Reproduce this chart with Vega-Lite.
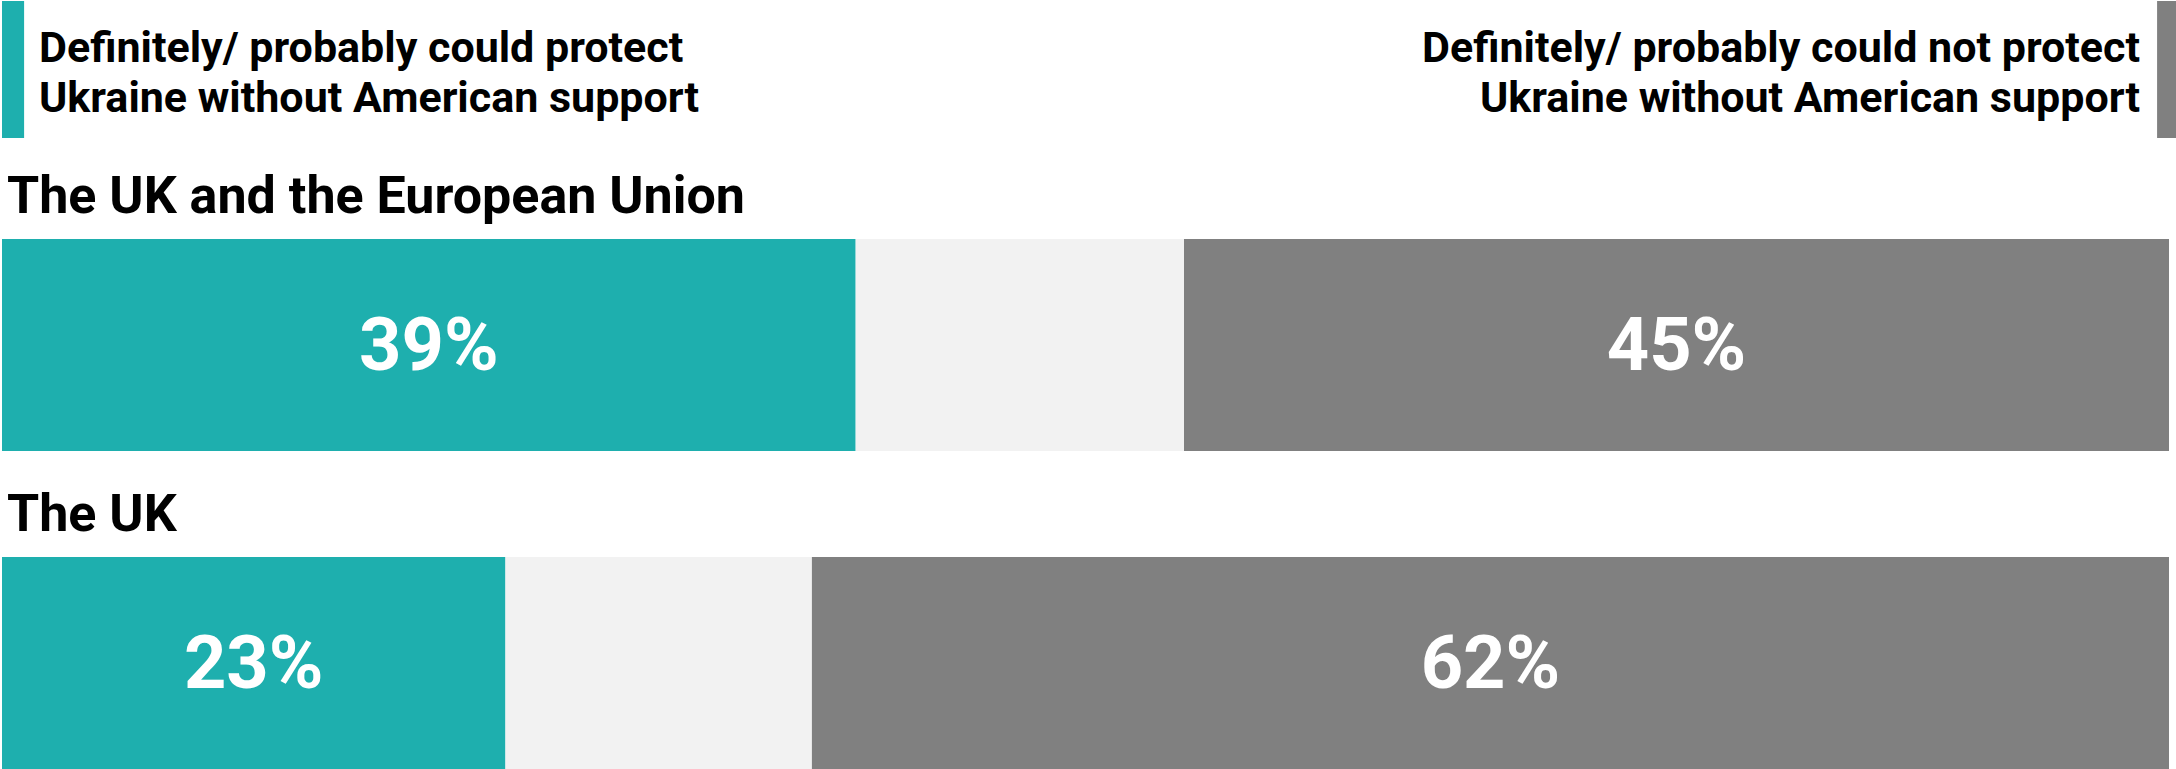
{
  "$schema": "https://vega.github.io/schema/vega-lite/v6.json",
  "padding": {"left": 2, "top": 1, "right": 0, "bottom": 0},
  "background": "white",
  "config": {"view": {"stroke": null}, "font": "Roboto", "title": {"font": "Roboto"}},
  "datasets": {
    "results": [
      {"group": "The UK and the European Union", "answer": "Definitely/ probably could protect", "seq": 1, "pct": 39, "label": "39%"},
      {"group": "The UK and the European Union", "answer": "Don't know", "seq": 2, "pct": 15, "label": ""},
      {"group": "The UK and the European Union", "answer": "Definitely/ probably could not protect", "seq": 3, "pct": 45, "label": "45%"},
      {"group": "The UK", "answer": "Definitely/ probably could protect", "seq": 1, "pct": 23, "label": "23%"},
      {"group": "The UK", "answer": "Don't know", "seq": 2, "pct": 14, "label": ""},
      {"group": "The UK", "answer": "Definitely/ probably could not protect", "seq": 3, "pct": 62, "label": "62%"}
    ],
    "legend": [
      {"side": "left", "text": "Definitely/ probably could protect\nUkraine without American support"},
      {"side": "right", "text": "Definitely/ probably could not protect\nUkraine without American support"}
    ]
  },
  "spacing": 33,
  "vconcat": [
    {
      "width": 2167,
      "height": 137,
      "data": {"name": "legend"},
      "encoding": {
        "y": {"datum": "swatch", "type": "nominal", "axis": null, "scale": {"paddingInner": 0, "paddingOuter": 0}}
      },
      "layer": [
        {
          "transform": [{"filter": "datum.side === 'left'"}],
          "mark": {"type": "bar", "color": "#1EAFAE", "clip": false},
          "encoding": {
            "x": {"datum": 0, "type": "quantitative", "scale": {"domain": [0, 1], "nice": false, "zero": false}, "axis": null},
            "x2": {"datum": 0.0102}
          }
        },
        {
          "transform": [{"filter": "datum.side === 'right'"}],
          "mark": {"type": "bar", "color": "#808080", "clip": false},
          "encoding": {
            "x": {"datum": 0.9945, "type": "quantitative", "axis": null},
            "x2": {"datum": 1.004}
          }
        },
        {
          "transform": [{"filter": "datum.side === 'left'"}],
          "mark": {"type": "text", "align": "left", "baseline": "alphabetic", "dx": 37, "dy": -8, "fontSize": 43, "fontWeight": "bold", "color": "#000000", "lineBreak": "\n", "lineHeight": 50},
          "encoding": {
            "x": {"datum": 0, "type": "quantitative"},
            "text": {"field": "text"}
          }
        },
        {
          "transform": [{"filter": "datum.side === 'right'"}],
          "mark": {"type": "text", "align": "right", "baseline": "alphabetic", "dx": -29, "dy": -8, "fontSize": 43, "fontWeight": "bold", "color": "#000000", "lineBreak": "\n", "lineHeight": 50},
          "encoding": {
            "x": {"datum": 1, "type": "quantitative"},
            "text": {"field": "text"}
          }
        }
      ]
    },
    {
      "spacing": 38,
      "vconcat": [
        {
          "width": 2167,
          "height": 212,
          "data": {"name": "results"},
          "title": {"text": "The UK and the European Union", "anchor": "start", "fontSize": 52, "fontWeight": "bold", "color": "#000000", "baseline": "alphabetic", "offset": -26, "dx": 5},
          "transform": [{"filter": "datum.group === 'The UK and the European Union'"}],
          "encoding": {
            "x": {"field": "pct", "type": "quantitative", "stack": "normalize", "axis": null, "scale": {"domain": [0, 1], "nice": false}},
            "y": {"field": "group", "type": "nominal", "axis": null, "scale": {"paddingInner": 0, "paddingOuter": 0}},
            "order": {"field": "seq", "type": "quantitative"}
          },
          "layer": [
            {
              "mark": {"type": "bar"},
              "encoding": {
                "color": {"field": "answer", "type": "nominal", "legend": null,
                  "scale": {"domain": ["Definitely/ probably could protect", "Don't know", "Definitely/ probably could not protect"], "range": ["#1EAFAE", "#F2F2F2", "#808080"]}}
              }
            },
            {
              "mark": {"type": "text", "color": "#FFFFFF", "fontSize": 74, "fontWeight": "bold", "baseline": "middle", "align": "center", "dy": 3},
              "encoding": {
                "x": {"field": "pct", "type": "quantitative", "stack": "normalize", "bandPosition": 0.5},
                "detail": {"field": "answer"},
                "text": {"field": "label"}
              }
            }
          ]
        },
        {
          "width": 2167,
          "height": 212,
          "data": {"name": "results"},
          "title": {"text": "The UK", "anchor": "start", "fontSize": 52, "fontWeight": "bold", "color": "#000000", "baseline": "alphabetic", "offset": -26, "dx": 5},
          "transform": [{"filter": "datum.group === 'The UK'"}],
          "encoding": {
            "x": {"field": "pct", "type": "quantitative", "stack": "normalize", "axis": null, "scale": {"domain": [0, 1], "nice": false}},
            "y": {"field": "group", "type": "nominal", "axis": null, "scale": {"paddingInner": 0, "paddingOuter": 0}},
            "order": {"field": "seq", "type": "quantitative"}
          },
          "layer": [
            {
              "mark": {"type": "bar"},
              "encoding": {
                "color": {"field": "answer", "type": "nominal", "legend": null,
                  "scale": {"domain": ["Definitely/ probably could protect", "Don't know", "Definitely/ probably could not protect"], "range": ["#1EAFAE", "#F2F2F2", "#808080"]}}
              }
            },
            {
              "mark": {"type": "text", "color": "#FFFFFF", "fontSize": 74, "fontWeight": "bold", "baseline": "middle", "align": "center", "dy": 3},
              "encoding": {
                "x": {"field": "pct", "type": "quantitative", "stack": "normalize", "bandPosition": 0.5},
                "detail": {"field": "answer"},
                "text": {"field": "label"}
              }
            }
          ]
        }
      ]
    }
  ]
}
